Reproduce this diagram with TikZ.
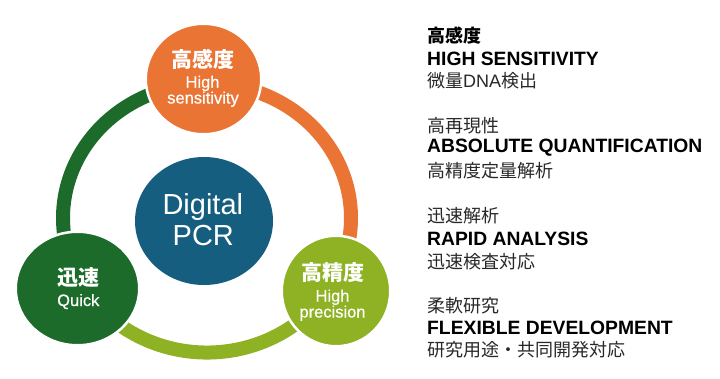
\documentclass[tikz,border=0pt]{standalone}
\usepackage{fontspec}
\setmainfont{Liberation Sans}
\newfontfamily\cjk{Noto Sans CJK JP}
\newfontfamily\latmed{Liberation Sans}[FakeBold=0.6]
\usetikzlibrary{shapes.geometric}
\definecolor{cOrange}{RGB}{234,116,52}
\definecolor{cDkGreen}{RGB}{28,107,42}
\definecolor{cLtGreen}{RGB}{142,178,36}
\definecolor{cBlue}{RGB}{21,94,128}
\definecolor{cGrayText}{RGB}{40,40,40}
\begin{document}
\begin{tikzpicture}[x=1pt,y=-1pt,
  blob/.style={ellipse, draw=white, line width=2.5pt, inner sep=0pt},
  ringseg/.style={line width=14pt},
  ctxt/.style={text=white, anchor=base, inner sep=0pt},
  ccjk/.style={ctxt, font=\cjk\bfseries\fontsize{21}{21}\selectfont},
  clat/.style={ctxt, font=\latmed\fontsize{16.5}{16.5}\selectfont},
  cbig/.style={ctxt, font=\fontsize{29}{29}\selectfont},
  rtxt/.style={anchor=base west, inner sep=0pt},
  rhead/.style={rtxt, text=black, font=\cjk\bfseries\fontsize{18}{18}\selectfont},
  rbold/.style={rtxt, text=black, font=\bfseries\fontsize{19.3}{19.3}\selectfont},
  rreg/.style={rtxt, text=cGrayText, font=\cjk\fontsize{18}{18}\selectfont},
]
\useasboundingbox (0,0) rectangle (720,378);
\coordinate (rc) at (207,218);
% ring segments
\draw[ringseg, cDkGreen] ([shift={(-90:144 and 134.5)}]rc) arc[start angle=-90, end angle=-200, x radius=144, y radius=134.5];
\draw[ringseg, cOrange] ([shift={(-90:144 and 134.5)}]rc) arc[start angle=-90, end angle=20, x radius=144, y radius=134.5];
\draw[ringseg, cLtGreen] ([shift={(160:144 and 134.5)}]rc) arc[start angle=160, end angle=20, x radius=144, y radius=134.5];
% circles
\node[blob, fill=cOrange, minimum width=115.5pt, minimum height=110.5pt] (hs) at (203.5,79) {};
\node[blob, fill=cDkGreen, minimum width=123.5pt, minimum height=113.5pt] (qk) at (77.5,288.5) {};
\node[blob, fill=cLtGreen, minimum width=108.5pt, minimum height=110.5pt] (hp) at (336,291) {};
\node[ellipse, fill=cBlue, draw=none, inner sep=0pt, minimum width=138pt, minimum height=128pt] (dp) at (204,221) {};
% circle texts
\node[ccjk] (hs1) at (202.5,67) {高感度};
\node[clat] (hs2) at (202.5,87.7) {High};
\node[clat] (hs3) at (203,103.5) {sensitivity};
\node[ccjk] (qk1) at (78.7,285.3) {迅速};
\node[clat] (qk2) at (78.3,306) {Quick};
\node[ccjk] (hp1) at (332.5,280.3) {高精度};
\node[clat] (hp2) at (332.5,301.5) {High};
\node[clat] (hp3) at (332.5,317.5) {precision};
\node[cbig] (dp1) at (202.8,214) {Digital};
\node[cbig] (dp2) at (203.3,245) {PCR};
% right texts
\node[rhead] (a1) at (427,42.7) {高感度};
\node[rbold] (a2) at (427,65) {HIGH SENSITIVITY};
\node[rreg] (a3) at (427,87) {微量{\fontspec{Liberation Sans}DNA}検出};
\node[rreg] (b1) at (427,132.7) {高再現性};
\node[rbold] (b2) at (427,152.7) {ABSOLUTE QUANTIFICATION};
\node[rreg] (b3) at (427,177) {高精度定量解析};
\node[rreg] (c1) at (427,222) {迅速解析};
\node[rbold] (c2) at (427,245) {RAPID ANALYSIS};
\node[rreg] (c3) at (427,268) {迅速検査対応};
\node[rreg] (d1) at (427,312) {柔軟研究};
\node[rbold] (d2) at (427,334) {FLEXIBLE DEVELOPMENT};
\node[rreg] (d3) at (427,356) {研究用途・共同開発対応};
\end{tikzpicture}
\end{document}
